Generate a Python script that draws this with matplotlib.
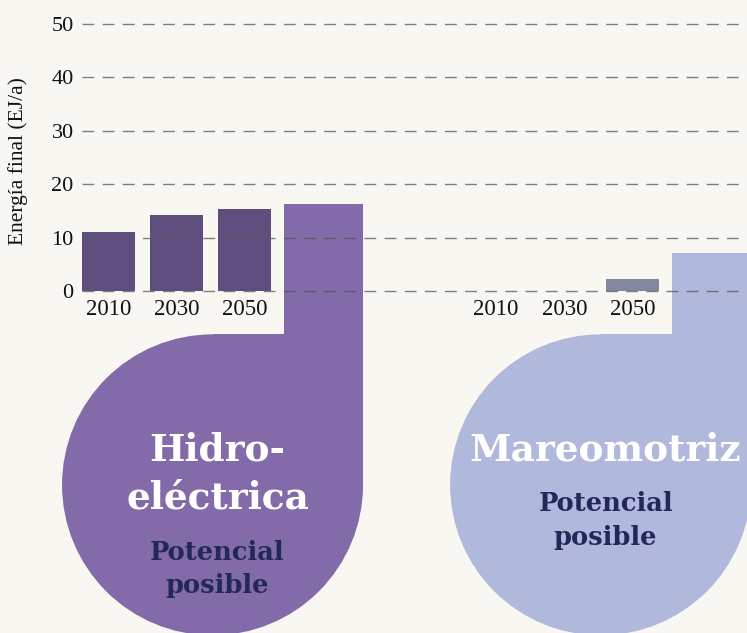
import numpy as np
import matplotlib.pyplot as plt
from matplotlib.patches import Ellipse, Rectangle

# datos (EJ/a)
years = ['2010', '2030', '2050']
hidro = [11.05, 14.2, 15.35]
hidro_pot = 16.3
mareo = [0.0, 0.0, 2.2]
mareo_pot = 7.1

x_hidro = [0.0, 1.0, 2.0]
x_hidro_pot = 3.15
x_mareo = [5.68, 6.68, 7.68]
x_mareo_pot = 8.836

bg = '#f8f7f2'
c_hidro, c_hidro_pot = '#5e4e7e', '#826ba8'
c_mareo, c_mareo_pot = '#83879f', '#b0b9db'
navy = '#23285a'

plt.rcParams['lines.scale_dashes'] = False
W, H = 747, 633
fig = plt.figure(figsize=(W / 100, H / 100), dpi=100, facecolor=bg)
ax = fig.add_axes([82 / W, 0, 665 / W, 1])
ax.set_facecolor(bg)
ax.set_xlim(-0.388, 9.356)
ax.set_ylim(-64.04, 54.49)

# escala px por unidad
px_x = 665 / (9.356 + 0.388)
px_y = H / (54.49 + 64.04)
r_px = 150.5
rx, ry = r_px / px_x, r_px / px_y
cy = -36.3  # centro del círculo (unidades y)
bw = 0.777
pw = 1.16

ax.bar(x_hidro, hidro, width=bw, color=c_hidro, zorder=2)
ax.bar(x_mareo, mareo, width=bw, color=c_mareo, zorder=2)

# gota: barra de potencial + círculo + cuadrante superior derecho
for xp, val, col in [(x_hidro_pot, hidro_pot, c_hidro_pot),
                     (x_mareo_pot, mareo_pot, c_mareo_pot)]:
    ax.bar(xp, val - cy, bottom=cy, width=pw, color=col, zorder=1, clip_on=False)
    cx = xp + pw / 2 - rx
    ax.add_patch(Ellipse((cx, cy), 2 * rx, 2 * ry, color=col, lw=0,
                         zorder=1, clip_on=False))
    ax.add_patch(Rectangle((cx, cy), rx, ry, color=col, lw=0,
                           zorder=1, clip_on=False))

for xs in (x_hidro, x_mareo):
    for xx, yr in zip(xs, years):
        ax.text(xx, -3.4, yr, ha='center', va='center',
                family='Liberation Serif', fontsize=16.5, color='#111')

# textos de los círculos
cx_h = x_hidro_pot + pw / 2 - rx + 5 / px_x
cx_m = x_mareo_pot + pw / 2 - rx + 5 / px_x
big = dict(family='DejaVu Serif', weight='bold', color='white', fontsize=27,
           ha='center', va='center', zorder=3)
small = dict(family='DejaVu Serif', weight='bold', color=navy, fontsize=18.5,
             ha='center', va='center', zorder=3)
ax.text(cx_h, -29.8, 'Hidro-', **big)
ax.text(cx_h, -38.8, 'eléctrica', **big)
ax.text(cx_h, -48.9, 'Potencial', **small)
ax.text(cx_h, -55.1, 'posible', **small)
ax.text(cx_m, -29.8, 'Mareomotriz', **big)
ax.text(cx_m, -39.7, 'Potencial', **small)
ax.text(cx_m, -46.1, 'posible', **small)

ax.set_yticks([0, 10, 20, 30, 40, 50])
ax.set_yticklabels(['0', '10', '20', '30', '40', '50'],
                   family='Liberation Serif', fontsize=16, color='#111')
ax.tick_params(axis='y', length=0, pad=6)
ax.set_xticks([])
ax.yaxis.grid(True, color='#555555', alpha=0.75, lw=1.0,
              linestyle=(0, (8.5, 6)), zorder=4)
ax.set_axisbelow(False)
for s in ax.spines.values():
    s.set_visible(False)

ax.set_ylabel('Energía final (EJ/a)', family='Liberation Serif', fontsize=15.5,
              color='#111')
ax.yaxis.set_label_coords(-0.081, 0.745)

fig.savefig('out.png', dpi=100, facecolor=bg)
